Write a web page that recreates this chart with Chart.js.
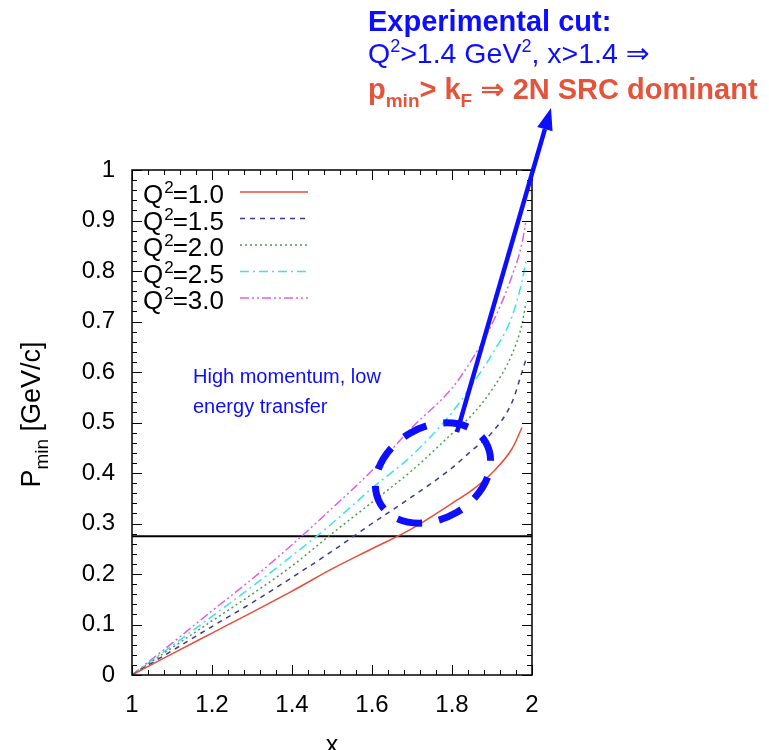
<!DOCTYPE html>
<html>
<head>
<meta charset="utf-8">
<script src="https://cdn.jsdelivr.net/npm/chart.js@4/dist/chart.umd.min.js"></script>
<style>
  html, body { margin: 0; padding: 0; background: #fff; }
  #c { display: block; }
</style>
</head>
<body>
<canvas id="c" width="769" height="750" style="width:769px;height:750px"></canvas>
<script>
// Bjorken x sampling of the p_min curves
const xValues = [1.0, 1.1, 1.2, 1.3, 1.4, 1.5, 1.6, 1.7, 1.8, 1.85, 1.9, 1.95, 1.975, 1.985];

// p_min [GeV/c] for each Q^2 [GeV^2]
const pminQ2_10 = [0, 0.042, 0.083, 0.124, 0.166, 0.21, 0.25, 0.29, 0.34, 0.366, 0.40, 0.448, 0.49, null];
const pminQ2_15 = [0, 0.048, 0.096, 0.143, 0.193, 0.245, 0.30, 0.353, 0.41, 0.445, 0.48, 0.54, 0.60, 0.625];
const pminQ2_20 = [0, 0.054, 0.107, 0.16, 0.216, 0.28, 0.342, 0.405, 0.478, 0.515, 0.565, 0.635, 0.695, 0.738];
const pminQ2_25 = [0, 0.058, 0.116, 0.175, 0.236, 0.30, 0.37, 0.435, 0.52, 0.575, 0.635, 0.71, 0.78, 0.82];
const pminQ2_30 = [0, 0.063, 0.127, 0.19, 0.258, 0.33, 0.405, 0.49, 0.568, 0.625, 0.695, 0.79, 0.855, 0.90];

const q2Labels = ['1.0', '1.5', '2.0', '2.5', '3.0'];
const fermiMomentum = 0.275;   // k_F [GeV/c]

const xTickLabels = ['1', '1.2', '1.4', '1.6', '1.8', '2'];
const yTickLabels = ['0', '0.1', '0.2', '0.3', '0.4', '0.5', '0.6', '0.7', '0.8', '0.9', '1'];

// annotation anchors in data units
const regionCenter = [1.7525, 0.40];
const arrowFrom = [1.8125, 0.481];
const arrowTo = [2.0475, 1.1228];
const noteAnchor = [1.1525, 0.578];

const FONT = "'Liberation Sans', Arial, 'DejaVu Sans', sans-serif";
const annBlue = '#0d0dff';
const annRed = '#e4533b';

const lineStyles = [
  { color: '#e84d3a', dash: [] },
  { color: '#3a3a94', dash: [5, 5] },
  { color: '#4f9a4f', dash: [2, 3] },
  { color: '#3fe3e3', dash: [9, 4, 2, 4] },
  { color: '#e35de3', dash: [9, 3, 2, 3, 2, 3] }
];

function toPoints(ys) {
  return xValues.map((x, i) => ({ x: x, y: ys[i] })).filter(p => p.y !== null);
}

const series = [pminQ2_10, pminQ2_15, pminQ2_20, pminQ2_25, pminQ2_30];

const datasets = series.map((ys, i) => ({
  label: 'Q2=' + q2Labels[i],
  data: toPoints(ys),
  borderColor: lineStyles[i].color,
  borderDash: lineStyles[i].dash,
  borderWidth: 1.5,
  pointRadius: 0,
  fill: false,
  cubicInterpolationMode: 'monotone'
}));

datasets.push({
  label: 'kF',
  data: [{ x: 1, y: fermiMomentum }, { x: 2, y: fermiMomentum }],
  borderColor: '#000',
  borderWidth: 2,
  pointRadius: 0,
  fill: false
});

// draw a sequence of text pieces (with sub/superscripts) starting at x, y
function richText(ctx, x, y, parts, color) {
  ctx.fillStyle = color;
  ctx.textAlign = 'left';
  ctx.textBaseline = 'alphabetic';
  let cx = x;
  for (const p of parts) {
    ctx.font = p.font;
    ctx.fillText(p.t, cx, y + (p.dy || 0));
    cx += ctx.measureText(p.t).width + (p.adv || 0);
  }
  return cx - x;
}
function richWidth(ctx, parts) {
  let w = 0;
  for (const p of parts) { ctx.font = p.font; w += ctx.measureText(p.t).width + (p.adv || 0); }
  return w;
}

// frame, inward ticks, legend and axis titles
const framePlugin = {
  id: 'frame',
  afterDatasetsDraw(chart) {
    const { ctx, chartArea: a, scales: { x, y } } = chart;
    ctx.save();
    ctx.strokeStyle = '#000';
    ctx.lineWidth = 1.5;
    ctx.setLineDash([]);
    ctx.strokeRect(a.left, a.top, a.right - a.left, a.bottom - a.top);

    ctx.lineWidth = 1;
    ctx.beginPath();
    for (let k = 0; k <= 25; k++) {
      const v = 1 + k * 0.04;
      const px = Math.round(x.getPixelForValue(v)) + 0.5;
      const len = (k % 5 === 0) ? 10 : 5;
      ctx.moveTo(px, a.bottom); ctx.lineTo(px, a.bottom - len);
      ctx.moveTo(px, a.top); ctx.lineTo(px, a.top + len);
    }
    for (let k = 0; k <= 50; k++) {
      const v = k * 0.02;
      const py = Math.round(y.getPixelForValue(v)) + 0.5;
      const len = (k % 5 === 0) ? 10 : 5;
      ctx.moveTo(a.left, py); ctx.lineTo(a.left + len, py);
      ctx.moveTo(a.right, py); ctx.lineTo(a.right - len, py);
    }
    ctx.stroke();

    // legend
    const rows = chart.data.datasets.slice(0, 5);
    rows.forEach((ds, i) => {
      const base = a.top + 33 + i * 26.5;
      const parts = [
        { t: 'Q', font: '26px ' + FONT, adv: 1 },
        { t: '2', font: '17px ' + FONT, dy: -10, adv: -1 },
        { t: '=' + q2Labels[i], font: '26px ' + FONT }
      ];
      richText(ctx, a.left + 11, base, parts, '#000');
      ctx.strokeStyle = ds.borderColor;
      ctx.lineWidth = 1.5;
      ctx.setLineDash(ds.borderDash || []);
      ctx.beginPath();
      ctx.moveTo(a.left + 108, base - 11);
      ctx.lineTo(a.left + 176, base - 11);
      ctx.stroke();
    });
    ctx.setLineDash([]);

    // axis titles
    ctx.save();
    ctx.translate(40, (a.top + a.bottom) / 2 - 8);
    ctx.rotate(-Math.PI / 2);
    const yTitle = [
      { t: 'P', font: '27px ' + FONT },
      { t: 'min', font: '19px ' + FONT, dy: 8 },
      { t: ' [GeV/c]', font: '27px ' + FONT }
    ];
    richText(ctx, -richWidth(ctx, yTitle) / 2, 0, yTitle, '#000');
    ctx.restore();

    ctx.font = '25px ' + FONT;
    ctx.fillStyle = '#000';
    ctx.textAlign = 'center';
    ctx.textBaseline = 'alphabetic';
    ctx.fillText('x', (a.left + a.right) / 2, 753);
    ctx.restore();
  }
};

// highlighted region, arrow and notes
const notesPlugin = {
  id: 'notes',
  afterDraw(chart) {
    const { ctx, scales: { x, y } } = chart;
    ctx.save();

    const cx = x.getPixelForValue(regionCenter[0]);
    const cy = y.getPixelForValue(regionCenter[1]);
    ctx.strokeStyle = annBlue;
    ctx.lineWidth = 7;
    ctx.setLineDash([25, 17]);
    ctx.lineDashOffset = 6;
    ctx.beginPath();
    ctx.ellipse(cx, cy, 61, 46, -Math.PI / 6, 0, Math.PI * 2);
    ctx.stroke();
    ctx.setLineDash([]);

    const x0 = x.getPixelForValue(arrowFrom[0]), y0 = y.getPixelForValue(arrowFrom[1]);
    const x1 = x.getPixelForValue(arrowTo[0]), y1 = y.getPixelForValue(arrowTo[1]);
    const ang = Math.atan2(y1 - y0, x1 - x0);
    const headLen = 22, headHalf = 8;
    const bx = x1 - headLen * Math.cos(ang), by = y1 - headLen * Math.sin(ang);
    ctx.lineWidth = 4.5;
    ctx.lineCap = 'butt';
    ctx.beginPath();
    ctx.moveTo(x0, y0);
    ctx.lineTo(bx, by);
    ctx.stroke();
    ctx.fillStyle = annBlue;
    ctx.beginPath();
    ctx.moveTo(x1, y1);
    ctx.lineTo(bx + headHalf * Math.sin(ang), by - headHalf * Math.cos(ang));
    ctx.lineTo(bx - headHalf * Math.sin(ang), by + headHalf * Math.cos(ang));
    ctx.closePath();
    ctx.fill();

    // note inside the plot
    const nx = x.getPixelForValue(noteAnchor[0]), ny = y.getPixelForValue(noteAnchor[1]);
    ctx.font = '20px ' + FONT;
    ctx.fillStyle = annBlue;
    ctx.textAlign = 'left';
    ctx.textBaseline = 'alphabetic';
    ctx.fillText('High momentum, low', nx, ny);
    ctx.fillText('energy transfer', nx, ny + 30);

    // cut description above the plot
    const tx = 368;
    richText(ctx, tx, 31, [{ t: 'Experimental cut:', font: 'bold 29px ' + FONT }], annBlue);
    richText(ctx, tx, 63, [
      { t: 'Q', font: '28.5px ' + FONT },
      { t: '2', font: '18px ' + FONT, dy: -11 },
      { t: '>1.4 GeV', font: '28.5px ' + FONT },
      { t: '2', font: '18px ' + FONT, dy: -11 },
      { t: ', x>1.4 \u21D2', font: '28.5px ' + FONT }
    ], annBlue);
    richText(ctx, tx, 99, [
      { t: 'p', font: 'bold 29px ' + FONT },
      { t: 'min', font: 'bold 19px ' + FONT, dy: 8 },
      { t: '> k', font: 'bold 29px ' + FONT },
      { t: 'F', font: 'bold 19px ' + FONT, dy: 8 },
      { t: ' \u21D2 2N SRC dominant', font: 'bold 29px ' + FONT }
    ], annRed);

    ctx.restore();
  }
};

new Chart(document.getElementById('c'), {
  type: 'line',
  data: { datasets: datasets },
  options: {
    responsive: false,
    animation: false,
    events: [],
    layout: { padding: { top: 170, right: 237, bottom: 0, left: 0 } },
    plugins: { legend: { display: false }, tooltip: { enabled: false } },
    scales: {
      x: {
        type: 'linear',
        min: 1, max: 2,
        grid: { display: false, drawTicks: false },
        border: { display: false },
        ticks: {
          stepSize: 0.2,
          padding: 16,
          color: '#000',
          font: { family: FONT, size: 24 },
          maxRotation: 0,
          callback: (v, i) => xTickLabels[i]
        },
        afterFit: s => { s.height = 75; }
      },
      y: {
        type: 'linear',
        min: 0, max: 1,
        grid: { display: false, drawTicks: false },
        border: { display: false },
        ticks: {
          stepSize: 0.1,
          padding: 17,
          color: '#000',
          font: { family: FONT, size: 24 },
          callback: (v, i) => yTickLabels[i]
        },
        afterFit: s => { s.width = 132; }
      }
    }
  },
  plugins: [framePlugin, notesPlugin]
});
</script>
</body>
</html>
